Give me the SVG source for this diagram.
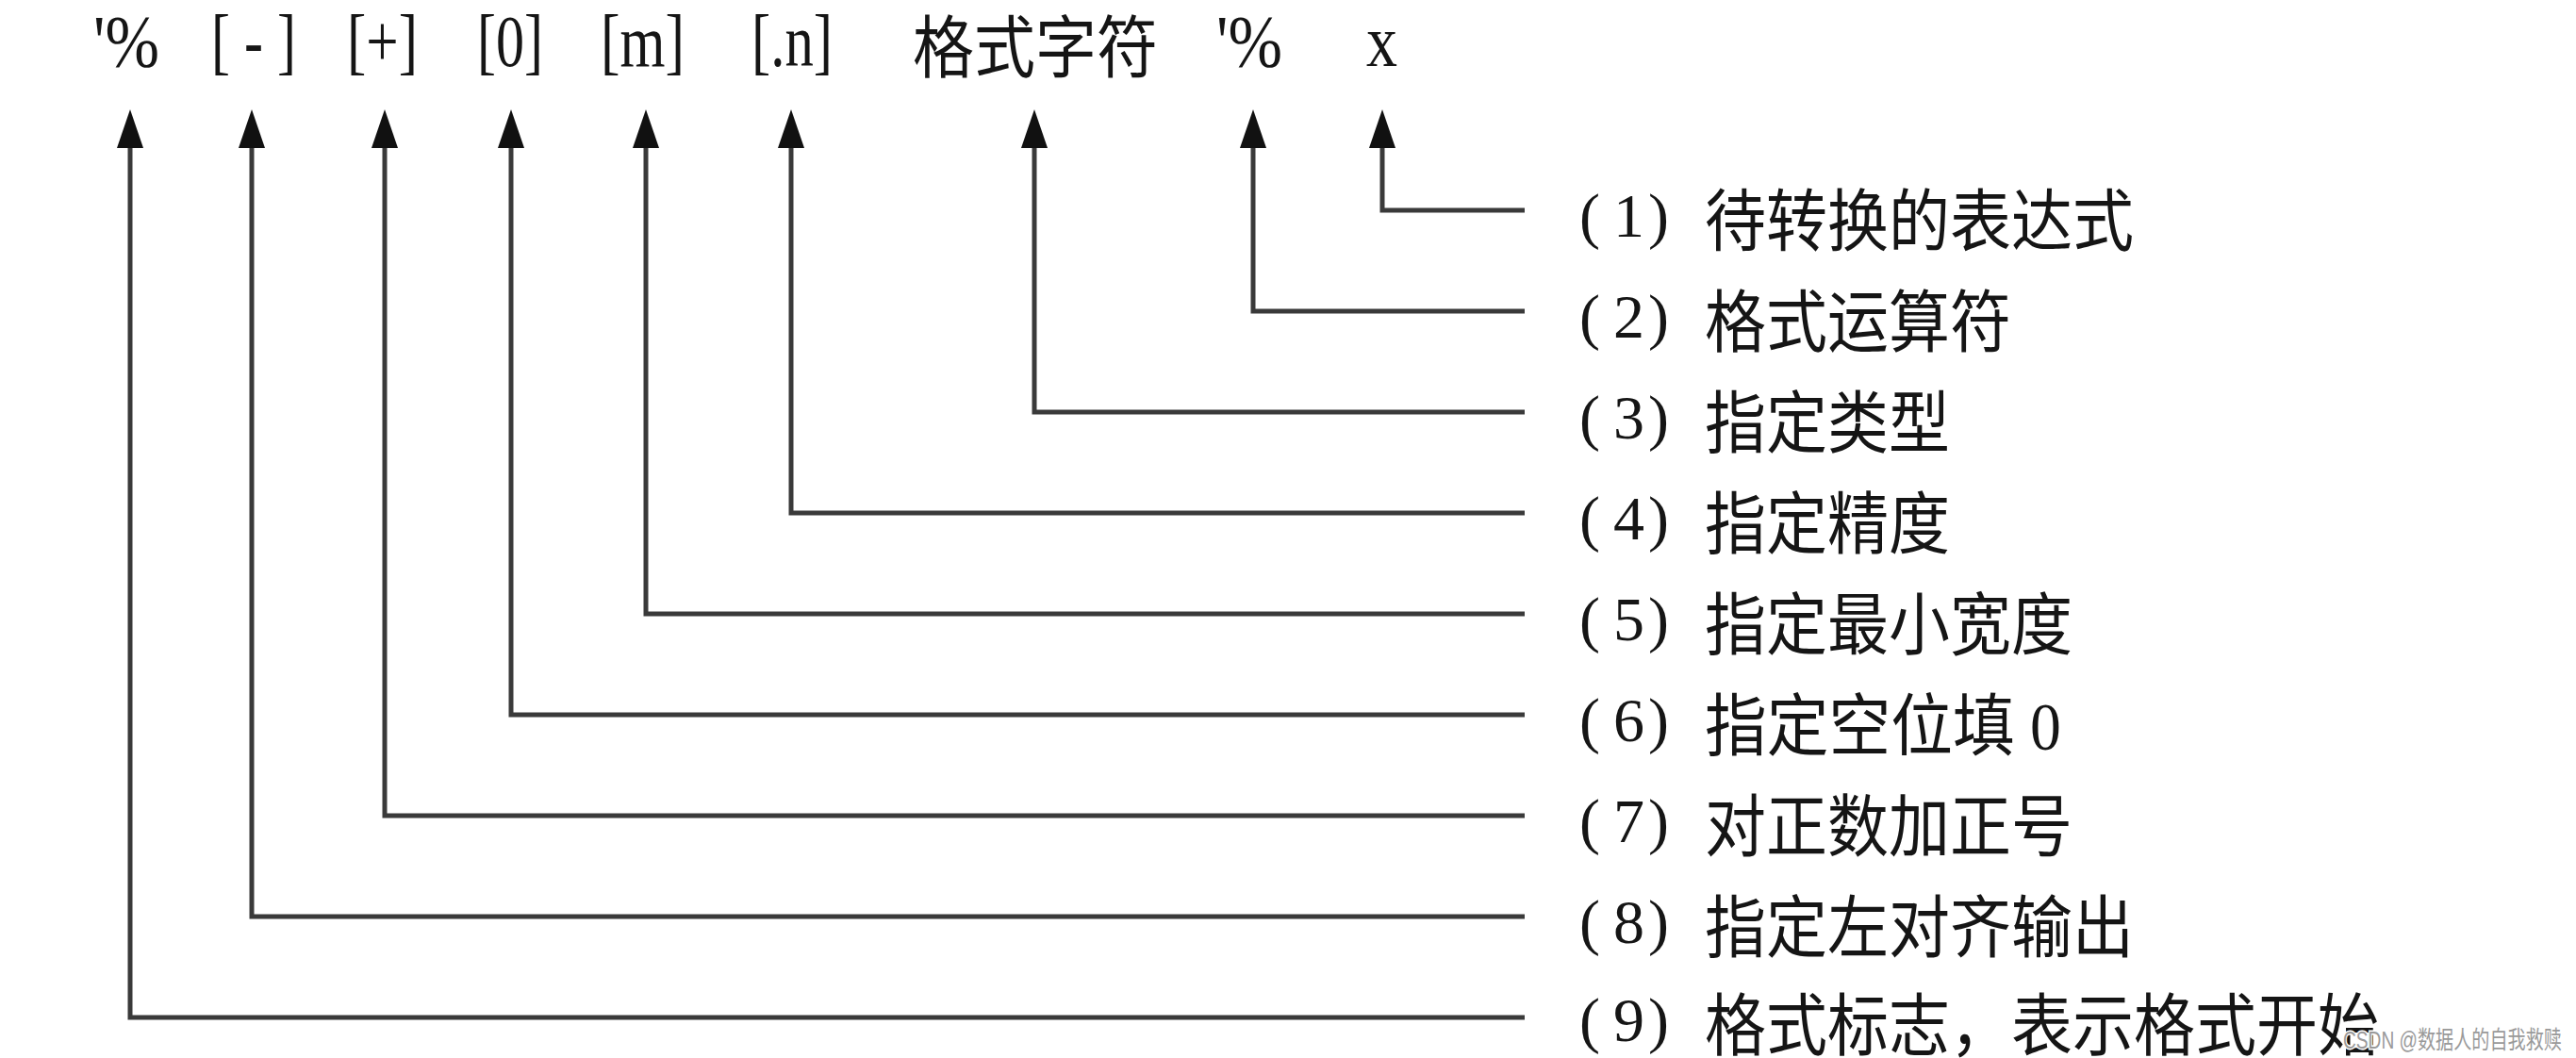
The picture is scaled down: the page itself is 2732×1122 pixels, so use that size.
<svg xmlns="http://www.w3.org/2000/svg" width="2732" height="1122" viewBox="0 0 2732 1122">
<style>
.bg{fill:#ffffff}
.conn{fill:none;stroke:#3a3a3a;stroke-width:5;stroke-linejoin:miter;stroke-linecap:butt}
.lat{font-family:"Liberation Serif","Noto Sans CJK SC",serif;font-size:79px;fill:#151515}
.cjk{font-family:"Noto Sans CJK SC","Liberation Serif",sans-serif;font-size:72px;fill:#151515}
.num{font-family:"Liberation Serif","Noto Sans CJK SC",serif;font-size:66px;fill:#151515}
.wm{font-family:"Liberation Sans","Noto Sans CJK SC",sans-serif;font-size:26px;fill:#9a9a9a;stroke:#ffffff;stroke-width:3;paint-order:stroke}
</style>
<defs>
<marker id="ah" markerUnits="userSpaceOnUse" viewBox="0 0 41 28" refX="0" refY="14" markerWidth="41" markerHeight="28" orient="auto">
<path d="M0,0 L41,14 L0,28 z" fill="#111111"/>
</marker>
</defs>
<rect class="bg" x="0" y="0" width="2732" height="1122"/>

<g id="top-labels">
<g id="t9"><text class="lat" x="99" y="70" textLength="70" lengthAdjust="spacingAndGlyphs">'%</text></g>
<g id="t8"><text class="lat" x="224" y="70" textLength="90" lengthAdjust="spacingAndGlyphs" xml:space="preserve">[ - ]</text></g>
<g id="t7"><text class="lat" x="368" y="70" textLength="75" lengthAdjust="spacingAndGlyphs">[+]</text></g>
<g id="t6"><text class="lat" x="506" y="70" textLength="70" lengthAdjust="spacingAndGlyphs">[0]</text></g>
<g id="t5"><text class="lat" x="637" y="70" textLength="89" lengthAdjust="spacingAndGlyphs">[m]</text></g>
<g id="t4"><text class="lat" x="797" y="70" textLength="86" lengthAdjust="spacingAndGlyphs">[.n]</text></g>
<g id="t3"><text class="cjk" x="968" y="76" textLength="260" lengthAdjust="spacingAndGlyphs">格式字符</text></g>
<g id="t2"><text class="lat" x="1290" y="70" textLength="70" lengthAdjust="spacingAndGlyphs">'%</text></g>
<g id="t1"><text class="lat" x="1449" y="70" textLength="33" lengthAdjust="spacingAndGlyphs">x</text></g>
</g>

<g id="connectors">
<path class="conn" marker-end="url(#ah)" d="M1617,223 H1466 V157"/>
<path class="conn" marker-end="url(#ah)" d="M1617,330 H1329 V157"/>
<path class="conn" marker-end="url(#ah)" d="M1617,437 H1097 V157"/>
<path class="conn" marker-end="url(#ah)" d="M1617,544 H839 V157"/>
<path class="conn" marker-end="url(#ah)" d="M1617,651 H685 V157"/>
<path class="conn" marker-end="url(#ah)" d="M1617,758 H542 V157"/>
<path class="conn" marker-end="url(#ah)" d="M1617,865 H408 V157"/>
<path class="conn" marker-end="url(#ah)" d="M1617,972 H267 V157"/>
<path class="conn" marker-end="url(#ah)" d="M1617,1079 H138 V157"/>
</g>

<g id="right-labels">
<g id="r1"><text class="num" x="1675 1711 1748" y="251">(1)</text><text class="cjk" x="1808" y="260" textLength="455" lengthAdjust="spacingAndGlyphs">待转换的表达式</text></g>
<g id="r2"><text class="num" x="1675 1711 1748" y="358">(2)</text><text class="cjk" x="1808" y="367" textLength="325" lengthAdjust="spacingAndGlyphs">格式运算符</text></g>
<g id="r3"><text class="num" x="1675 1711 1748" y="465">(3)</text><text class="cjk" x="1808" y="474" textLength="260" lengthAdjust="spacingAndGlyphs">指定类型</text></g>
<g id="r4"><text class="num" x="1675 1711 1748" y="572">(4)</text><text class="cjk" x="1808" y="581" textLength="260" lengthAdjust="spacingAndGlyphs">指定精度</text></g>
<g id="r5"><text class="num" x="1675 1711 1748" y="679">(5)</text><text class="cjk" x="1808" y="688" textLength="390" lengthAdjust="spacingAndGlyphs">指定最小宽度</text></g>
<g id="r6"><text class="num" x="1675 1711 1748" y="786">(6)</text><text class="cjk" x="1808" y="795" textLength="378" lengthAdjust="spacingAndGlyphs" xml:space="preserve">指定空位填<tspan font-family="Liberation Serif, serif"> 0</tspan></text></g>
<g id="r7"><text class="num" x="1675 1711 1748" y="893">(7)</text><text class="cjk" x="1808" y="902" textLength="390" lengthAdjust="spacingAndGlyphs">对正数加正号</text></g>
<g id="r8"><text class="num" x="1675 1711 1748" y="1000">(8)</text><text class="cjk" x="1808" y="1009" textLength="455" lengthAdjust="spacingAndGlyphs">指定左对齐输出</text></g>
<g id="r9"><text class="num" x="1675 1711 1748" y="1104">(9)</text><text class="cjk" x="1808" y="1113" textLength="715" lengthAdjust="spacingAndGlyphs">格式标志，表示格式开始</text></g>
</g>

<text class="wm" x="2485" y="1112" textLength="232" lengthAdjust="spacingAndGlyphs">CSDN @数据人的自我救赎</text>
</svg>
